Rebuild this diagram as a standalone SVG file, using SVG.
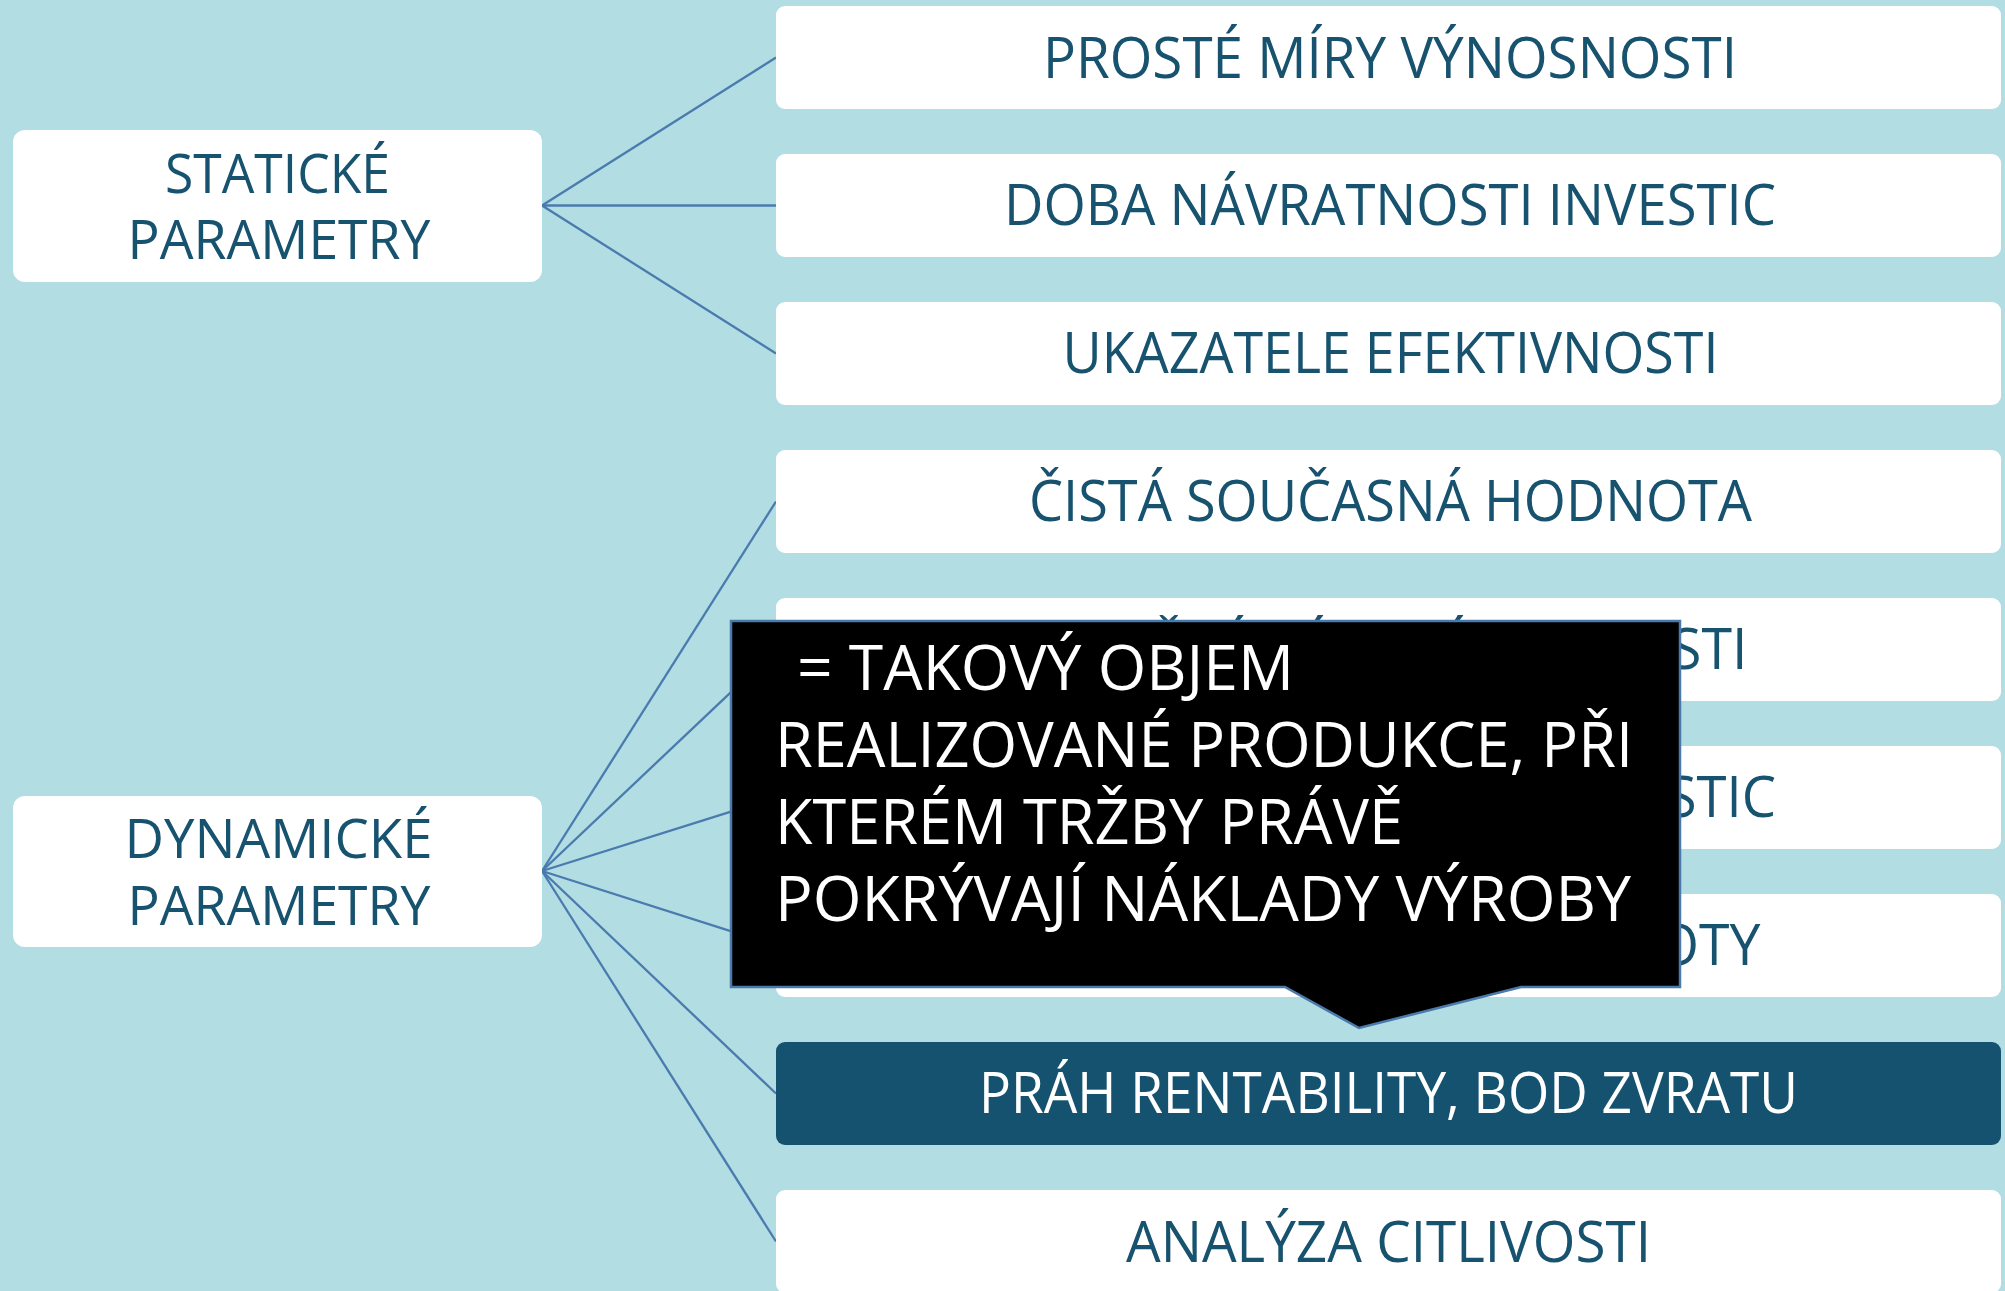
<svg xmlns="http://www.w3.org/2000/svg" width="2005" height="1291" viewBox="0 0 2005 1291">
<style>
.bg{fill:#b2dde3}
.box{fill:#ffffff}
.hl{fill:#15526f}
.t{font-family:"Open Sans","Noto Sans","DejaVu Sans",sans-serif;fill:#17526f;text-anchor:middle}
.tr{font-size:57px}
.tl{font-size:54px}
.tw{fill:#ffffff}
.ct{font-family:"Open Sans","Noto Sans","DejaVu Sans",sans-serif;font-size:63px;fill:#ffffff}
.conn line{stroke:#4a7aae;stroke-width:2.3}
</style>
<rect class="bg" x="0" y="0" width="2005" height="1291"/>
<g id="connectors" class="conn">
<line x1="542" y1="205.5" x2="776" y2="57.5"/>
<line x1="542" y1="205.5" x2="776" y2="205.5"/>
<line x1="542" y1="205.5" x2="776" y2="353.5"/>
<line x1="542" y1="871" x2="776" y2="501.5"/>
<line x1="542" y1="871" x2="776" y2="649.5"/>
<line x1="542" y1="871" x2="776" y2="797.5"/>
<line x1="542" y1="871" x2="776" y2="945.5"/>
<line x1="542" y1="871" x2="776" y2="1093.5"/>
<line x1="542" y1="871" x2="776" y2="1241.5"/>
</g>
<g id="static">
<rect class="box" x="13" y="130" width="529" height="152" rx="12"/>
<text class="t tl" x="277.5" y="192.7" textLength="225" lengthAdjust="spacingAndGlyphs">STATICKÉ</text>
<text class="t tl" x="279" y="259.3" textLength="303" lengthAdjust="spacingAndGlyphs">PARAMETRY</text>
</g>
<g id="dynamic">
<rect class="box" x="13" y="796" width="529" height="151" rx="12"/>
<text class="t tl" x="278.5" y="858" textLength="308" lengthAdjust="spacingAndGlyphs">DYNAMICKÉ</text>
<text class="t tl" x="279" y="925" textLength="303" lengthAdjust="spacingAndGlyphs">PARAMETRY</text>
</g>
<g id="n1">
<rect class="box" x="776" y="6" width="1225" height="103" rx="9"/>
<text class="t tr" x="1390" y="77.7" textLength="694" lengthAdjust="spacingAndGlyphs">PROSTÉ MÍRY VÝNOSNOSTI</text>
</g>
<g id="n2">
<rect class="box" x="776" y="154" width="1225" height="103" rx="9"/>
<text class="t tr" x="1390" y="225.3" textLength="772" lengthAdjust="spacingAndGlyphs">DOBA NÁVRATNOSTI INVESTIC</text>
</g>
<g id="n3">
<rect class="box" x="776" y="302" width="1225" height="103" rx="9"/>
<text class="t tr" x="1390.5" y="373.3" textLength="656" lengthAdjust="spacingAndGlyphs">UKAZATELE EFEKTIVNOSTI</text>
</g>
<g id="n4">
<rect class="box" x="776" y="450" width="1225" height="103" rx="9"/>
<text class="t tr" x="1390.5" y="521.3" textLength="723" lengthAdjust="spacingAndGlyphs">ČISTÁ SOUČASNÁ HODNOTA</text>
</g>
<g id="n5">
<rect class="box" x="776" y="598" width="1225" height="103" rx="9"/>
<text class="t tr" x="1389" y="669.3" textLength="717" lengthAdjust="spacingAndGlyphs">VNITŘNÍ MÍRA VÝNOSNOSTI</text>
</g>
<g id="n6">
<rect class="box" x="776" y="746" width="1225" height="103" rx="9"/>
<text class="t tr" x="1390" y="817.3" textLength="772" lengthAdjust="spacingAndGlyphs">DOBA NÁVRATNOSTI INVESTIC</text>
</g>
<g id="n7">
<rect class="box" x="776" y="894" width="1225" height="103" rx="9"/>
<text class="t tr" x="1388" y="965.3" textLength="745" lengthAdjust="spacingAndGlyphs">INDEX SOUČASNÉ HODNOTY</text>
</g>
<g id="n8">
<rect class="hl" x="776" y="1042" width="1225" height="103" rx="9"/>
<text class="t tr tw" x="1388.5" y="1113.3" textLength="819" lengthAdjust="spacingAndGlyphs">PRÁH RENTABILITY, BOD ZVRATU</text>
</g>
<g id="n9">
<rect class="box" x="776" y="1190" width="1225" height="103" rx="9"/>
<text class="t tr" x="1388.5" y="1261.5" textLength="525" lengthAdjust="spacingAndGlyphs">ANALÝZA CITLIVOSTI</text>
</g>
<g id="callout">
<path d="M731,621 H1680 V987 H1521 L1359,1028 L1285,987 H731 Z" fill="#000000" stroke="#4a79ab" stroke-width="2.5" stroke-linejoin="miter"/>
<text class="ct" x="797" y="690" textLength="497" lengthAdjust="spacingAndGlyphs">= TAKOVÝ OBJEM</text>
<text class="ct" x="775" y="766.7" textLength="858" lengthAdjust="spacingAndGlyphs">REALIZOVANÉ PRODUKCE, PŘI</text>
<text class="ct" x="775" y="844" textLength="628" lengthAdjust="spacingAndGlyphs">KTERÉM TRŽBY PRÁVĚ</text>
<text class="ct" x="775" y="920.7" textLength="856" lengthAdjust="spacingAndGlyphs">POKRÝVAJÍ NÁKLADY VÝROBY</text>
</g>
</svg>
